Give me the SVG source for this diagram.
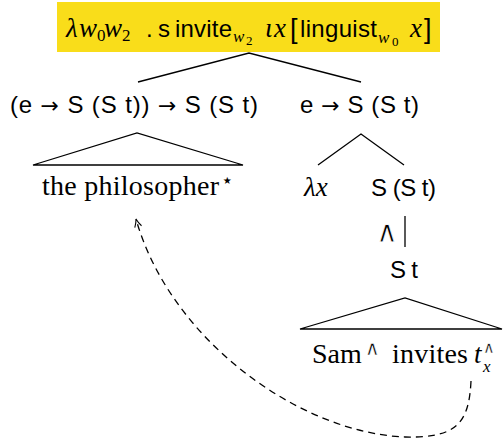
<svg xmlns="http://www.w3.org/2000/svg" width="503" height="439" viewBox="0 0 503 439">
<style>
.sf{font-family:"Liberation Sans","DejaVu Sans",sans-serif;font-size:24px;fill:#000}
.sy{font-family:"DejaVu Sans",sans-serif;font-size:22px;fill:#000}
.wedge{font-family:"DejaVu Sans",sans-serif;fill:#000;stroke:#fff;stroke-width:0.8}
.rm{font-family:"Liberation Serif","DejaVu Serif",serif;font-size:28px;fill:#000}
.it{font-family:"Liberation Serif","DejaVu Serif",serif;font-style:italic;font-size:27px;fill:#000}
.sub{font-size:17px}
.ssub{font-size:13px}
.ln{stroke:#000;stroke-width:1.3;fill:none}
.dash{stroke:#000;stroke-width:1.3;fill:none;stroke-dasharray:7,5}
</style>
<defs>
<marker id="arr" viewBox="0 0 10 10" refX="9" refY="5" markerWidth="10" markerHeight="10" markerUnits="userSpaceOnUse" orient="auto">
<path d="M1,1.5 Q5,4 9,5 Q5,6 1,8.5" fill="none" stroke="#000" stroke-width="1.1"/>
</marker>
</defs>

<g id="root">
<rect x="57" y="2" width="383" height="50" fill="#f9dd1a"/>
<text class="it" x="66" y="37">λ</text>
<text class="it" x="79" y="37">w</text>
<text class="rm sub" x="97" y="41">0</text>
<text class="it" x="104" y="37">w</text>
<text class="rm sub" x="122" y="41">2</text>
<text class="sf" x="146" y="37">.</text>
<text class="sf" x="158" y="37">s</text>
<text class="sf" x="175" y="37" textLength="57">invite</text>
<text class="it sub" x="233" y="42">w</text>
<text class="rm ssub" x="246" y="45">2</text>
<text class="it" x="265" y="37">ι</text>
<text class="it" x="274" y="37">x</text>
<text class="sf" x="290" y="38" style="font-size:27px">[</text>
<text class="sf" x="300" y="37" textLength="77">linguist</text>
<text class="it sub" x="378" y="43">w</text>
<text class="rm ssub" x="392" y="46">0</text>
<text class="it" x="410" y="37">x</text>
<text class="sf" x="424" y="38" style="font-size:27px">]</text>
</g>

<g id="left">
<text class="sf" x="10" y="113" textLength="248">(e <tspan class="sy">→</tspan> S (S t)) <tspan class="sy">→</tspan> S (S t)</text>
</g>

<g id="left-leaf">
<path class="ln" d="M33,165 L137,133 L243,165 Z"/>
<text class="rm" x="42" y="195" textLength="177">the philosopher</text>
<text class="sy" x="221" y="187" style="font-size:20px">⋆</text>
</g>

<g id="right">
<text class="sf" x="300" y="113" textLength="119">e <tspan class="sy">→</tspan> S (S t)</text>
</g>

<g id="lambda">
<text class="it" x="304" y="196">λx</text>
</g>

<g id="sst">
<text class="sf" x="371" y="196" textLength="65">S (S t)</text>
</g>

<g id="st">
<text class="sf" x="390" y="278" textLength="28">S t</text>
</g>

<g id="right-leaf">
<path class="ln" d="M300,329 L405,298 L502,329 Z"/>
<text class="rm" x="312" y="363">Sam</text>
<text class="wedge" x="365" y="355" style="font-size:20px;stroke-width:0.5">∧</text>
<text class="rm" x="392" y="363" textLength="76">invites</text>
<text class="it" x="474" y="363">t</text>
<text class="wedge" x="483" y="353" style="font-size:16px;stroke-width:0.4">∧</text>
<text class="it" x="483" y="372" style="font-size:17px">x</text>
</g>

<g id="connectors">
<path class="ln" d="M138,82 L249,53 L361,82"/>
<path class="ln" d="M318,165 L361,134 L404,165"/>
<path class="ln" d="M405,216 L405,247"/>
<text class="wedge" x="376" y="242" style="font-size:30px">∧</text>
<path class="dash" d="M471,381 C469,425 455,438 405,437 C300,433 170,340 136,219" marker-end="url(#arr)"/>
</g>
</svg>
